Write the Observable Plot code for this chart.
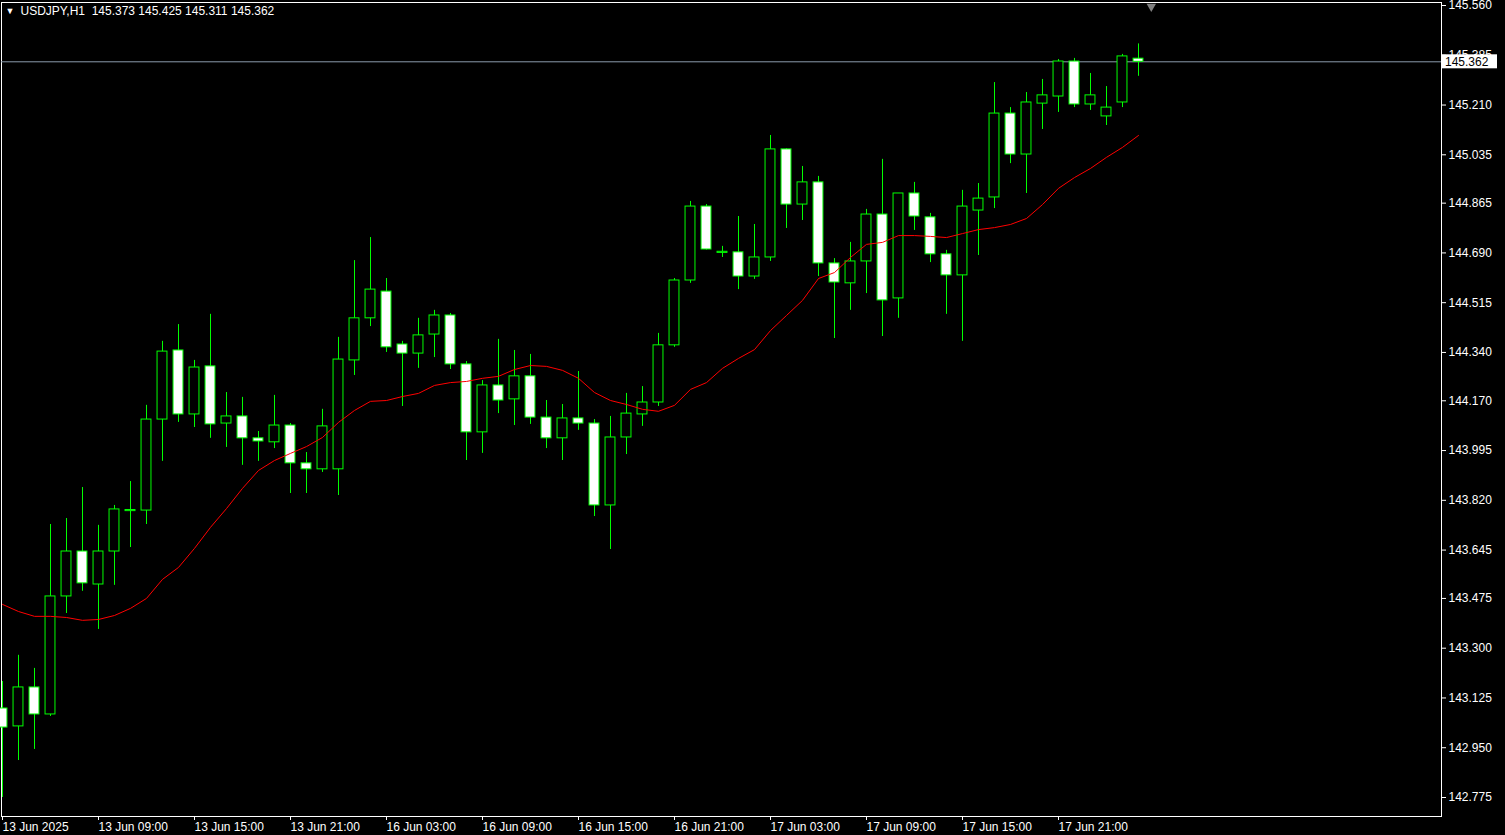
<!DOCTYPE html>
<html><head><meta charset="utf-8">
<script src="https://cdn.jsdelivr.net/npm/d3@7"></script>
<script src="https://cdn.jsdelivr.net/npm/@observablehq/plot@0.6"></script>
<style>
html,body{margin:0;padding:0;background:#000;overflow:hidden}
#chart{position:relative;width:1505px;height:835px}
</style></head><body><div id="chart"></div>
<script>
const symbolName = "USDJPY,H1";
const opens = [143.088,143.025,143.162,143.067,143.482,143.640,143.524,143.640,143.782,143.784,
144.104,144.347,144.122,144.291,144.090,144.115,144.038,144.024,144.083,143.950,
143.929,143.929,144.312,144.460,144.554,144.368,144.336,144.403,144.470,144.298,
144.059,144.224,144.175,144.256,144.111,144.038,144.108,144.090,143.802,144.041,
144.122,144.164,144.365,144.593,144.853,144.690,144.692,144.607,144.674,145.054,
144.860,144.938,144.653,144.583,144.660,144.825,144.530,144.899,144.815,144.685,
144.611,144.839,144.885,145.180,145.036,145.215,145.240,145.363,145.212,145.170,
145.219,145.373];
const highs = [143.183,143.275,143.229,143.735,143.756,143.865,143.732,143.802,143.886,144.154,
144.379,144.438,144.312,144.474,144.199,144.182,144.062,144.189,144.090,143.988,
144.140,144.393,144.663,144.744,144.600,144.379,144.460,144.488,144.477,144.308,
144.241,144.386,144.347,144.333,144.171,144.157,144.273,144.104,144.115,144.196,
144.220,144.407,144.600,144.871,144.860,144.713,144.818,144.790,145.103,145.056,
144.994,144.959,144.670,144.727,144.843,145.019,144.899,144.938,144.829,144.699,
144.910,144.934,145.289,145.201,145.254,145.300,145.370,145.374,145.321,145.275,
145.388,145.425];
const lows = [142.775,142.905,142.944,143.060,143.422,143.500,143.366,143.521,143.654,143.735,
143.957,144.094,144.076,144.038,144.006,143.943,143.957,144.002,143.844,143.844,
143.918,143.837,144.259,144.431,144.340,144.150,144.284,144.322,144.280,143.960,
143.985,144.125,144.083,144.087,144.002,143.960,144.066,143.763,143.647,143.981,
144.080,144.150,144.358,144.583,144.700,144.674,144.561,144.597,144.660,144.776,
144.804,144.607,144.389,144.488,144.547,144.396,144.460,144.769,144.656,144.474,
144.379,144.681,144.846,145.004,144.899,145.124,145.184,145.201,145.191,145.138,
145.201,145.311];
const closes = [143.021,143.162,143.067,143.482,143.640,143.528,143.640,143.788,143.786,144.104,
144.343,144.122,144.287,144.087,144.115,144.038,144.027,144.083,143.950,143.929,
144.080,144.315,144.460,144.561,144.358,144.336,144.400,144.470,144.298,144.059,
144.224,144.171,144.256,144.111,144.038,144.108,144.090,143.802,144.041,144.125,
144.164,144.365,144.593,144.853,144.702,144.694,144.607,144.674,145.054,144.860,
144.938,144.653,144.586,144.660,144.825,144.523,144.899,144.818,144.685,144.611,
144.853,144.881,145.180,145.036,145.219,145.244,145.363,145.212,145.244,145.201,
145.381,145.362];
const maValues = [143.454,143.429,143.412,143.412,143.408,143.398,143.401,143.415,143.440,143.475,
143.542,143.584,143.651,143.725,143.791,143.862,143.925,143.960,143.985,144.009,
144.041,144.094,144.136,144.168,144.171,144.185,144.196,144.224,144.234,144.238,
144.249,144.256,144.280,144.294,144.291,144.277,144.249,144.199,144.171,144.157,
144.140,144.133,144.154,144.210,144.234,144.284,144.319,144.350,144.417,144.470,
144.523,144.600,144.621,144.674,144.720,144.727,144.751,144.751,144.748,144.744,
144.758,144.772,144.779,144.790,144.811,144.860,144.917,144.955,144.987,145.026,
145.061,145.103];
const timeTickIdx = [0,6,12,18,24,30,36,42,48,54,60,66];
const timeTickLabels = ["13 Jun 2025","13 Jun 09:00","13 Jun 15:00","13 Jun 21:00","16 Jun 03:00","16 Jun 09:00","16 Jun 15:00","16 Jun 21:00","17 Jun 03:00","17 Jun 09:00","17 Jun 15:00","17 Jun 21:00"];
const priceTicks = [145.560,145.385,145.210,145.035,144.865,144.690,144.515,144.340,144.170,143.995,143.820,143.645,143.475,143.300,143.125,142.950,142.775];

const candles = opens.map((o,i)=>({i, open:o, high:highs[i], low:lows[i], close:closes[i]}));
const bulls = candles.filter(d=>d.close >= d.open);
const bears = candles.filter(d=>d.close < d.open);
const maData = maValues.map((v,i)=>({i, v}));
const last = candles[candles.length-1];
const nb = "\u00a0";
const titleText = symbolName + nb + nb + [last.open,last.high,last.low,last.close].map(v=>v.toFixed(3)).join(nb);
const font = "'Liberation Sans', Arial, sans-serif";
const lime = "#00ff00";

const plot = Plot.plot({
  width:1505, height:835,
  marginTop:2, marginLeft:1, marginRight:64, marginBottom:19,
  style:{background:"#000", color:"#fff", fontFamily:font, fontSize:"12px", overflow:"visible"},
  x:{type:"linear", domain:[0,71], range:[2,1138]},
  y:{domain:[142.775,145.560], range:[797,5]},
  marks:[
    Plot.frame({stroke:"#fff"}),
    Plot.axisY({anchor:"right", ticks:priceTicks, tickFormat:d=>d.toFixed(3), tickSize:4, tickPadding:3, stroke:"#fff", fill:"#fff", label:null, fontSize:12}),
    Plot.axisX({anchor:"bottom", ticks:timeTickIdx, tickFormat:d=>timeTickLabels[timeTickIdx.indexOf(d)], tickSize:4, tickPadding:2, textAnchor:"start", dx:0, stroke:"#fff", fill:"#fff", label:null, fontSize:12}),
    Plot.ruleY([last.close], {stroke:"#8a9aac"}),
    Plot.ruleX(candles, {x:"i", y1:"low", y2:"high", stroke:lime}),
    Plot.rect(bulls, {x1:d=>d.i-0.31, x2:d=>d.i+0.31, y1:"open", y2:"close", fill:"#000", stroke:lime}),
    Plot.rect(bears, {x1:d=>d.i-0.31, x2:d=>d.i+0.31, y1:"open", y2:"close", fill:"#fff", stroke:lime}),
    Plot.line(maData, {x:"i", y:"v", stroke:"#ff0000", strokeWidth:1}),
    Plot.text([titleText], {frameAnchor:"top-left", dx:19, dy:4, fill:"#fff", fontSize:12, text:d=>d}),
    Plot.text(["▼"], {frameAnchor:"top-left", dx:4, dy:5, fill:"#fff", fontSize:9, text:d=>d}),
    Plot.dot([last], {x:d=>d.i+0.8, frameAnchor:"top", dy:4, symbol:"triangle", rotate:180, r:3.5, fill:"#808080", stroke:"none"})
  ]
});
document.getElementById("chart").appendChild(plot);

// current price tag on the price axis
const svg = d3.select(plot);
const yPx = plot.scale("y").apply(last.close);
const tag = svg.append("g");
tag.append("rect").attr("x",1441).attr("y",yPx-7).attr("width",56).attr("height",14).attr("fill","#fff");
tag.append("text").attr("x",1445).attr("y",yPx).attr("dy","0.35em").attr("fill","#000")
  .attr("text-anchor","start")
  .attr("font-family",font).attr("font-size",12).text(last.close.toFixed(3));
</script>
</body></html>
